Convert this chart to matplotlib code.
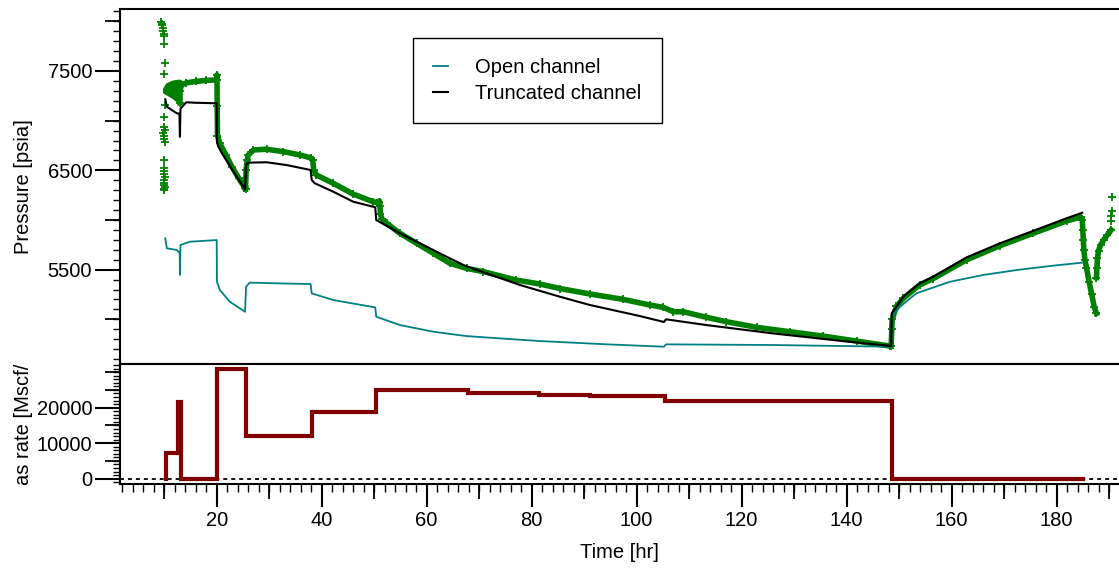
import matplotlib
matplotlib.use("Agg")
import matplotlib.pyplot as plt
from matplotlib.ticker import FixedLocator, MultipleLocator, NullFormatter, NullLocator

plt.rcParams['font.family'] = ['Liberation Sans', 'DejaVu Sans']
FS = 14.5

# ---------------- gas rate history (step, value holds until next time) ----------------
rate_t = [10.3, 10.3, 12.7, 13.2, 20.0, 25.5, 38.1, 50.3, 67.8, 81.4, 91.2, 105.5, 148.6, 185.1]
rate_q = [0, 7150, 21700, 0, 30900, 12100, 18700, 25000, 24050, 23670, 23390, 21970, 0, 0]

# ---------------- model: truncated channel ----------------
trunc_t = [10.2, 10.5, 12.4, 12.9, 13.0, 13.1, 14.2, 16.0, 20.0, 20.05, 20.3, 21.0, 23.2, 25.4,
           25.6, 26.0, 29.5, 33.3, 37.9, 38.1, 38.7, 42.2, 46.0, 50.2, 50.4, 54.9, 60.0, 64.4,
           67.0, 67.8, 71.4, 77.8, 85.4, 91.1, 100.6, 105.2, 105.6, 113.3, 126.0, 138.7, 148.5,
           148.6, 149.5, 150.8, 153.9, 156.5, 162.9, 169.2, 175.5, 181.9, 184.9]
trunc_p = [7215, 7140, 7074, 7070, 6838, 7120, 7185, 7180, 7175, 6790, 6739, 6671, 6486, 6309,
           6553, 6577, 6581, 6553, 6503, 6402, 6369, 6285, 6184, 6128, 5999, 5866, 5731, 5614,
           5547, 5530, 5463, 5345, 5227, 5144, 5033, 4973, 5000, 4942, 4858, 4784, 4731,
           5060, 5127, 5228, 5362, 5429, 5624, 5765, 5889, 6017, 6073]

# ---------------- model: open channel ----------------
open_t = [10.2, 10.5, 12.4, 12.95, 13.0, 13.1, 14.9, 20.0, 20.05, 20.6, 22.5, 25.4, 25.6, 26.3,
          33.3, 37.9, 38.1, 42.2, 50.2, 50.4, 54.9, 61.3, 67.6, 73.9, 81.6, 94.3, 105.2, 105.6,
          126.0, 148.5, 148.6, 150.2, 153.3, 159.7, 166.0, 172.4, 178.7, 184.8]
open_p = [5815, 5715, 5698, 5667, 5446, 5748, 5781, 5798, 5378, 5295, 5177, 5076, 5328, 5369,
          5360, 5355, 5261, 5194, 5120, 5026, 4942, 4875, 4831, 4808, 4781, 4748, 4724, 4748,
          4741, 4724, 5026, 5127, 5262, 5378, 5446, 5496, 5536, 5570]

# ---------------- measured gauge pressure ----------------
# isolated readings at the start of the record
meas_a_t = [9.4, 9.5, 9.6, 9.7, 9.8, 9.9, 10.0, 10.0, 10.1, 10.0, 10.2, 10.0, 9.9, 10.1, 9.8,
            9.9, 10.0, 10.1, 10.0, 9.9, 10.0, 10.0, 10.1, 9.9, 10.0, 10.0, 10.1, 9.9, 10.0]
meas_a_p = [7990, 7960, 7975, 7930, 7900, 7875, 7850, 7770, 7580, 7470, 7160, 7040, 6935, 6905,
            6880, 6850, 6820, 6790, 6600, 6520, 6490, 6460, 6430, 6400, 6370, 6350, 6330, 6310, 6300]
# noisy first flow period (upper / lower envelope)
meas_fan_t = [10.0, 10.5, 11.5, 12.5, 13.0]
meas_fan_hi = [7320, 7365, 7390, 7400, 7400]
meas_fan_lo = [7290, 7275, 7245, 7205, 7175]
# continuous record
meas_b_t = [13.0, 13.0, 13.3, 14.2, 16.0, 18.0, 20.0, 20.05, 20.1, 20.15, 20.6, 21.8, 22.9, 24.2, 25.4]
meas_b_p = [7180, 7300, 7360, 7380, 7395, 7405, 7410, 7460, 7150, 6850, 6772, 6650, 6537, 6420, 6320]
meas_c_t = [25.5, 25.6, 25.8, 26.0, 27.0, 29.5, 32.7, 35.9, 37.9, 38.3, 38.5, 39.0, 42.2, 46.0,
            49.8, 50.5, 51.0]
meas_c_p = [6310, 6500, 6600, 6654, 6705, 6712, 6688, 6654, 6625, 6600, 6500, 6453, 6369, 6261,
            6184, 6175, 6185]
meas_d_t = [51.1, 51.2, 51.5, 52.4, 54.9, 58.1, 61.3, 64.4, 67.6, 70.8, 77.1, 81.6, 85.4, 91.1,
            97.4, 102.5, 105.1, 107.0, 108.9, 113.3, 117.1, 122.9, 129.2, 135.5, 141.9, 148.2]
meas_d_p = [6140, 6060, 6010, 5966, 5866, 5765, 5664, 5564, 5513, 5480, 5395, 5355, 5310, 5255,
            5201, 5144, 5120, 5076, 5076, 5020, 4976, 4919, 4875, 4831, 4781, 4731]
meas_e_t = [148.5, 148.6, 148.7, 149.5, 150.8, 153.9, 156.5, 162.9, 169.2, 175.5, 181.9, 184.6,
            184.9, 185.0, 185.1, 185.2, 185.4, 185.7, 186.2, 186.7, 187.2, 187.6]
meas_e_p = [4731, 4900, 5000, 5130, 5210, 5345, 5410, 5600, 5740, 5865, 5990, 6030,
            6000, 5900, 5800, 5700, 5600, 5520, 5380, 5250, 5120, 5060]
meas_f_t = [187.6, 187.7, 187.8, 188.0, 188.4, 189.0, 189.7, 190.4]
meas_f_p = [5420, 5520, 5620, 5690, 5750, 5800, 5850, 5900]
meas_g_t = [190.4, 190.4, 190.5, 190.5]
meas_g_p = [5990, 6040, 6090, 6235]

# tick positions
x_major = [20, 40, 60, 80, 100, 120, 140, 160, 180]
x_mid = [10, 30, 50, 70, 90, 110, 130, 150, 170, 190]
p_major = [5500, 6500, 7500]
p_mid = [5000, 6000, 7000, 8000]
q_major = [0, 10000, 20000]
q_mid = [5000, 15000, 25000, 30000]

GREEN = '#008000'
TEAL = '#008080'
MAROON = '#800000'

W, H = 1119, 571
fig = plt.figure(figsize=(W / 100, H / 100), dpi=100)
L = 120 / W
ax_p = fig.add_axes([L, (H - 364) / H, 1 - L, (364 - 9) / H])
ax_q = fig.add_axes([L, (H - 484) / H, 1 - L, (484 - 364) / H])

XLIM = (1.58, 191.9)
for ax in (ax_p, ax_q):
    ax.set_xlim(*XLIM)
    ax.spines['right'].set_visible(False)
    for s in ('left', 'top', 'bottom'):
        ax.spines[s].set_linewidth(1.5)
ax_p.set_ylim(4550, 8124)
ax_q.set_ylim(-1500, 32300)

# ---- pressure panel ----
mk = dict(marker='+', ms=5.5, mew=1.3, color=GREEN)
ax_p.fill_between(meas_fan_t, meas_fan_lo, meas_fan_hi, color=GREEN, lw=2.5, edgecolor=GREEN)
ax_p.plot(meas_a_t, meas_a_p, ls='none', **mk)
for tt, pp in ((meas_b_t, meas_b_p), (meas_c_t, meas_c_p), (meas_d_t, meas_d_p),
               (meas_e_t, meas_e_p), (meas_f_t, meas_f_p)):
    ax_p.plot(tt, pp, lw=4.0, **mk)
ax_p.plot(meas_g_t, meas_g_p, ls='none', **mk)

ax_p.plot(open_t, open_p, color=TEAL, lw=1.3, label='Open channel')
ax_p.plot(trunc_t, trunc_p, color='black', lw=1.5, label='Truncated channel')

leg = ax_p.legend(loc='upper left', bbox_to_anchor=(0.2933, 0.9183), fontsize=FS,
                  handlelength=0.75, handletextpad=1.35, borderpad=1.0, labelspacing=0.35,
                  frameon=True, fancybox=False, framealpha=1, borderaxespad=0)
leg.get_frame().set_edgecolor('black')
leg.get_frame().set_linewidth(1.0)

ax_p.tick_params(axis='x', bottom=False, labelbottom=False, which='both')
ax_p.yaxis.set_major_locator(FixedLocator(p_major))
ax_p.yaxis.set_minor_locator(MultipleLocator(100))
ax_p.set_yticklabels([str(v) for v in p_major])
ax_p.tick_params(axis='y', which='major', direction='out', length=18, width=1.5, pad=2, labelsize=FS)
ax_p.tick_params(axis='y', which='minor', direction='out', length=5, width=1.0)
sec_p = ax_p.secondary_yaxis('left')
sec_p.yaxis.set_major_locator(FixedLocator(p_mid))
sec_p.yaxis.set_major_formatter(NullFormatter())
sec_p.yaxis.set_minor_locator(NullLocator())
sec_p.tick_params(axis='y', direction='out', length=10.5, width=1.3)
sec_p.spines['left'].set_visible(False)
ax_p.set_ylabel('Pressure [psia]', fontsize=FS)
ax_p.yaxis.set_label_coords(-0.087, 0.5)

# ---- rate panel ----
ax_q.axhline(0, color='black', lw=1.3, ls=(0, (2.2, 2.2)), zorder=1)
ax_q.step(rate_t, rate_q, where='post', color=MAROON, lw=3.0, solid_joinstyle='miter', zorder=2)

ax_q.yaxis.set_major_locator(FixedLocator(q_major))
ax_q.yaxis.set_minor_locator(MultipleLocator(1000))
ax_q.set_yticklabels([str(v) for v in q_major])
ax_q.tick_params(axis='y', which='major', direction='out', length=18, width=1.5, pad=2, labelsize=FS)
ax_q.tick_params(axis='y', which='minor', direction='out', length=5, width=1.0)
sec_qy = ax_q.secondary_yaxis('left')
sec_qy.yaxis.set_major_locator(FixedLocator(q_mid))
sec_qy.yaxis.set_major_formatter(NullFormatter())
sec_qy.yaxis.set_minor_locator(NullLocator())
sec_qy.tick_params(axis='y', direction='out', length=10.5, width=1.3)
sec_qy.spines['left'].set_visible(False)

ax_q.xaxis.set_major_locator(FixedLocator(x_major))
ax_q.xaxis.set_minor_locator(MultipleLocator(2))
ax_q.set_xticklabels([str(v) for v in x_major])
ax_q.tick_params(axis='x', which='major', direction='out', length=16.5, width=1.5, pad=3, labelsize=FS)
ax_q.tick_params(axis='x', which='minor', direction='out', length=6, width=1.0)
sec_qx = ax_q.secondary_xaxis('bottom')
sec_qx.xaxis.set_major_locator(FixedLocator(x_mid))
sec_qx.xaxis.set_major_formatter(NullFormatter())
sec_qx.xaxis.set_minor_locator(NullLocator())
sec_qx.tick_params(axis='x', direction='out', length=11, width=1.3)
sec_qx.spines['bottom'].set_visible(False)

ax_q.set_ylabel('as rate [Mscf/', fontsize=FS)
ax_q.yaxis.set_label_coords(-0.087, 0.5)
ax_q.set_xlabel('Time [hr]', fontsize=FS, labelpad=9)

fig.savefig('out.png', dpi=100)
